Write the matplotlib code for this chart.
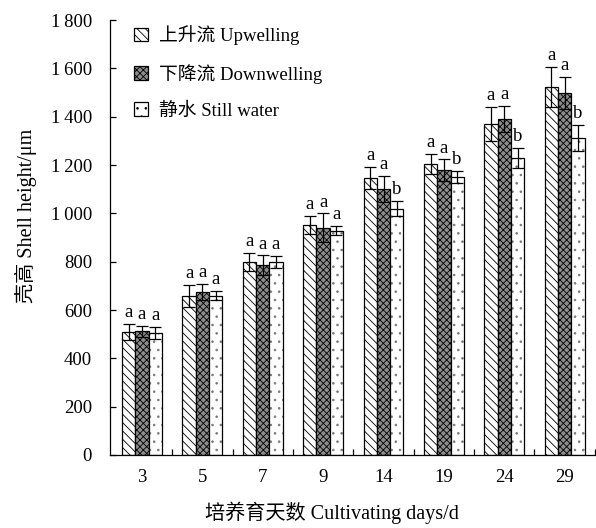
import matplotlib
matplotlib.use('Agg')
import matplotlib.pyplot as plt
import numpy as np

plt.rcParams['font.family'] = ['Liberation Serif', 'Noto Sans CJK SC', 'DejaVu Serif']
plt.rcParams['hatch.linewidth'] = 0.6

days = ['3', '5', '7', '9', '14', '19', '24', '29']
up_mean = [508, 658, 798, 952, 1146, 1204, 1369, 1522]
up_err = [33, 45, 38, 37, 46, 41, 71, 83]
down_mean = [512, 674, 786, 940, 1100, 1178, 1390, 1498]
down_err = [22, 33, 40, 60, 54, 45, 54, 66]
still_mean = [506, 660, 798, 929, 1020, 1150, 1230, 1312]
still_err = [25, 20, 25, 20, 33, 25, 41, 54]
up_sig = ['a', 'a', 'a', 'a', 'a', 'a', 'a', 'a']
down_sig = ['a', 'a', 'a', 'a', 'a', 'a', 'a', 'a']
still_sig = ['a', 'a', 'a', 'a', 'b', 'b', 'b', 'b']
labels = ['上升流 Upwelling', '下降流 Downwelling', '静水 Still water']
yticks = [0, 200, 400, 600, 800, 1000, 1200, 1400, 1600, 1800]
yticklabels = ['0', '200', '400', '600', '800', '1\u2009000', '1\u2009200', '1\u2009400', '1\u2009600', '1\u2009800']

fig = plt.figure(figsize=(5.96, 5.28), dpi=100)
ax = fig.add_axes([0.1846, 0.1383, 0.8134, 0.8237])

x = np.arange(len(days))
w = 0.22
series = [
  (up_mean, up_err, up_sig, 'white', '\\\\\\\\', 'black'),
  (down_mean, down_err, down_sig, '#8c8c8c', 'xxxxx', 'black'),
  (still_mean, still_err, still_sig, 'white', '..', '#777777'),
]
for i, (m, e, s, fc, h, hc) in enumerate(series):
  xs = x + (i - 1) * w
  # hatch layer, then black outline on top
  ax.bar(xs, m, width=w, color=fc, edgecolor=hc, linewidth=0, hatch=h, zorder=2)
  ax.bar(xs, m, width=w, fill=False, edgecolor='black', linewidth=0.9, zorder=2)
  ax.bar([np.nan], [np.nan], width=w, color=fc, edgecolor='black', linewidth=0.9,
         hatch=h, label=labels[i])
  ax.errorbar(xs, m, yerr=e, fmt='none', ecolor='black', elinewidth=0.9,
              capsize=4.5, capthick=0.9, zorder=3)
  for xi, mi, ei, si in zip(xs, m, e, s):
    ax.annotate(si, (xi, mi + ei), xytext=(0, 2), textcoords='offset points',
                ha='center', va='bottom', fontsize=13.5)

ax.set_xlim(-0.53, 7.49)
ax.set_ylim(0, 1800)
ax.set_xticks(x)
ax.set_xticklabels(days, fontsize=13.5)
ax.set_xticks(x + 0.5, minor=True)
ax.tick_params(axis='x', which='major', length=0, pad=10)
ax.tick_params(axis='x', which='minor', direction='in', length=4, width=0.9)
ax.set_yticks(yticks)
ax.set_yticklabels(yticklabels, fontsize=13.5)
ax.tick_params(axis='y', direction='in', length=4, width=0.9, pad=13)
ax.spines['top'].set_visible(False)
ax.spines['right'].set_visible(False)
ax.spines['left'].set_linewidth(0.9)
ax.spines['bottom'].set_linewidth(0.9)

ax.set_ylabel('壳高 Shell height/μm', fontsize=14.5)
ax.yaxis.set_label_coords(-0.15, 0.55)
ax.set_xlabel('培养育天数 Cultivating days/d', fontsize=14.5)
ax.xaxis.set_label_coords(0.458, -0.108)

leg = ax.legend(loc='upper left', bbox_to_anchor=(0.015, 1.027), frameon=False,
                fontsize=13.5, handlelength=0.75, handleheight=0.75,
                handletextpad=0.6, labelspacing=1.0)

fig.savefig('out.png', dpi=100)
plt.close(fig)
